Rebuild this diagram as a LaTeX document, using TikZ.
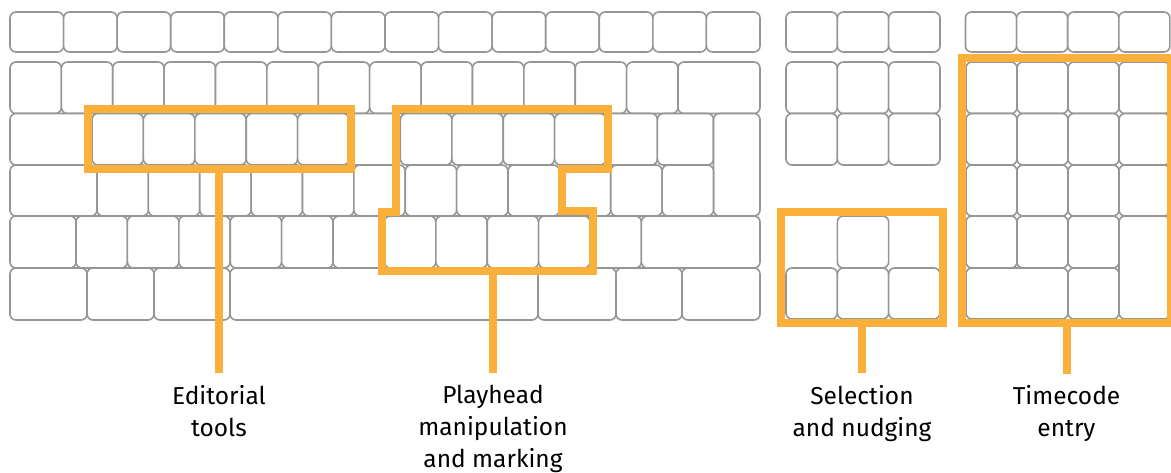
\documentclass[tikz,border=0pt]{standalone}
\usepackage{fontspec}
\setmainfont{Fira Sans}
\definecolor{hilite}{RGB}{251,176,59}
\definecolor{keyline}{RGB}{150,150,150}
\begin{document}
\begin{tikzpicture}[x=1pt,y=-1pt,
  keycap/.style={draw=keyline,line width=1.6pt,fill=white,rounded corners=6pt},
  groupbox/.style={draw=hilite,line width=8pt,inner sep=0pt,outer sep=0pt},
  leader/.style={draw=hilite,line width=8pt},
  caption/.style={font=\fontsize{24.5}{32}\selectfont,align=center,anchor=north,inner sep=0pt}]
\useasboundingbox (0,0) rectangle (1171,472);
% main block
\foreach \i in {0,...,13} \draw[keycap] ({10+\i*53.571},12) rectangle ++(53.571,40);
\foreach \i in {0,...,12} \draw[keycap] ({10+\i*51.385},62) rectangle ++(51.385,51.5);
\draw[keycap] (678,62) rectangle (760,113.5);
\draw[keycap] (10,113.5) rectangle (92,165);
\foreach \i in {0,...,10} \draw[keycap] ({92+\i*51.4},113.5) rectangle ++(51.4,51.5);
\draw[keycap] (657.4,113.5) rectangle (713.5,165);
\draw[keycap] (713.5,113.5) rectangle (760,216);
\draw[keycap] (10,165) rectangle (97,216);
\foreach \i in {0,...,11} \draw[keycap] ({97+\i*51.375},165) rectangle ++(51.375,51);
\draw[keycap] (10,216) rectangle (76,268);
\foreach \i in {0,...,10} \draw[keycap] ({76+\i*51.4},216) rectangle ++(51.4,52);
\draw[keycap] (641.4,216) rectangle (760,268);
\draw[keycap] (10,268) rectangle (87,320);
\draw[keycap] (87,268) rectangle (154,320);
\draw[keycap] (154,268) rectangle (230,320);
\draw[keycap] (230,268) rectangle (538,320);
\draw[keycap] (538,268) rectangle (616,320);
\draw[keycap] (616,268) rectangle (682,320);
\draw[keycap] (682,268) rectangle (760,320);
% navigation block
\foreach \i in {0,1,2} {
  \draw[keycap] ({786+\i*51.33},12) rectangle ++(51.33,40);
  \draw[keycap] ({786+\i*51.33},62) rectangle ++(51.33,51.5);
  \draw[keycap] ({786+\i*51.33},113.5) rectangle ++(51.33,51.5);
  \draw[keycap] ({786+\i*51.33},268) rectangle ++(51.33,51);
}
\draw[keycap] (837.33,216) rectangle (888.67,268);
% numeric block
\foreach \i in {0,...,3} {
  \draw[keycap] ({965.5+\i*51.1},12) rectangle ++(51.1,40);
  \draw[keycap] ({966+\i*51},62) rectangle ++(51,51.5);
  \draw[keycap] ({966+\i*51},113.5) rectangle ++(51,51.5);
  \draw[keycap] ({966+\i*51},165) rectangle ++(51,51);
}
\foreach \i in {0,1,2} \draw[keycap] ({966+\i*51},216) rectangle ++(51,52);
\draw[keycap] (1119,216) rectangle (1170,319);
\draw[keycap] (966,268) rectangle (1068,319);
\draw[keycap] (1068,268) rectangle (1119,319);
% highlight groups
\node[groupbox,minimum width=263pt,minimum height=60pt] (edBox) at (219,139) {};
\draw[groupbox] (396,109) -- (608,109) -- (608,169) -- (561.5,169) -- (561.5,211)
  -- (593,211) -- (593,270.5) -- (382,270.5) -- (382,212) -- (396,212) -- cycle;
\coordinate (phFoot) at (493,270.5);
\node[groupbox,minimum width=162pt,minimum height=111pt] (selBox) at (862,267) {};
\node[groupbox,minimum width=209pt,minimum height=265.5pt] (tcBox) at (1066.5,190.25) {};
% leaders and captions
\coordinate (edEnd) at (219,373);
\coordinate (phEnd) at (493,373);
\coordinate (selEnd) at (862,373);
\coordinate (tcEnd) at (1066.5,374);
\draw[leader] (edBox.south) -- (edEnd);
\draw[leader] (phFoot) -- (phEnd);
\draw[leader] (selBox.south) -- (selEnd);
\draw[leader] (tcBox.south) -- (tcEnd);
\node[caption] (edLabel) at (219,385) {Editorial\\tools};
\node[caption] (phLabel) at (493,385) {Playhead\\manipulation\\and marking};
\node[caption] (selLabel) at (862,385) {Selection\\and nudging};
\node[caption] (tcLabel) at (1066.5,385) {Timecode\\entry};
\end{tikzpicture}
\end{document}
